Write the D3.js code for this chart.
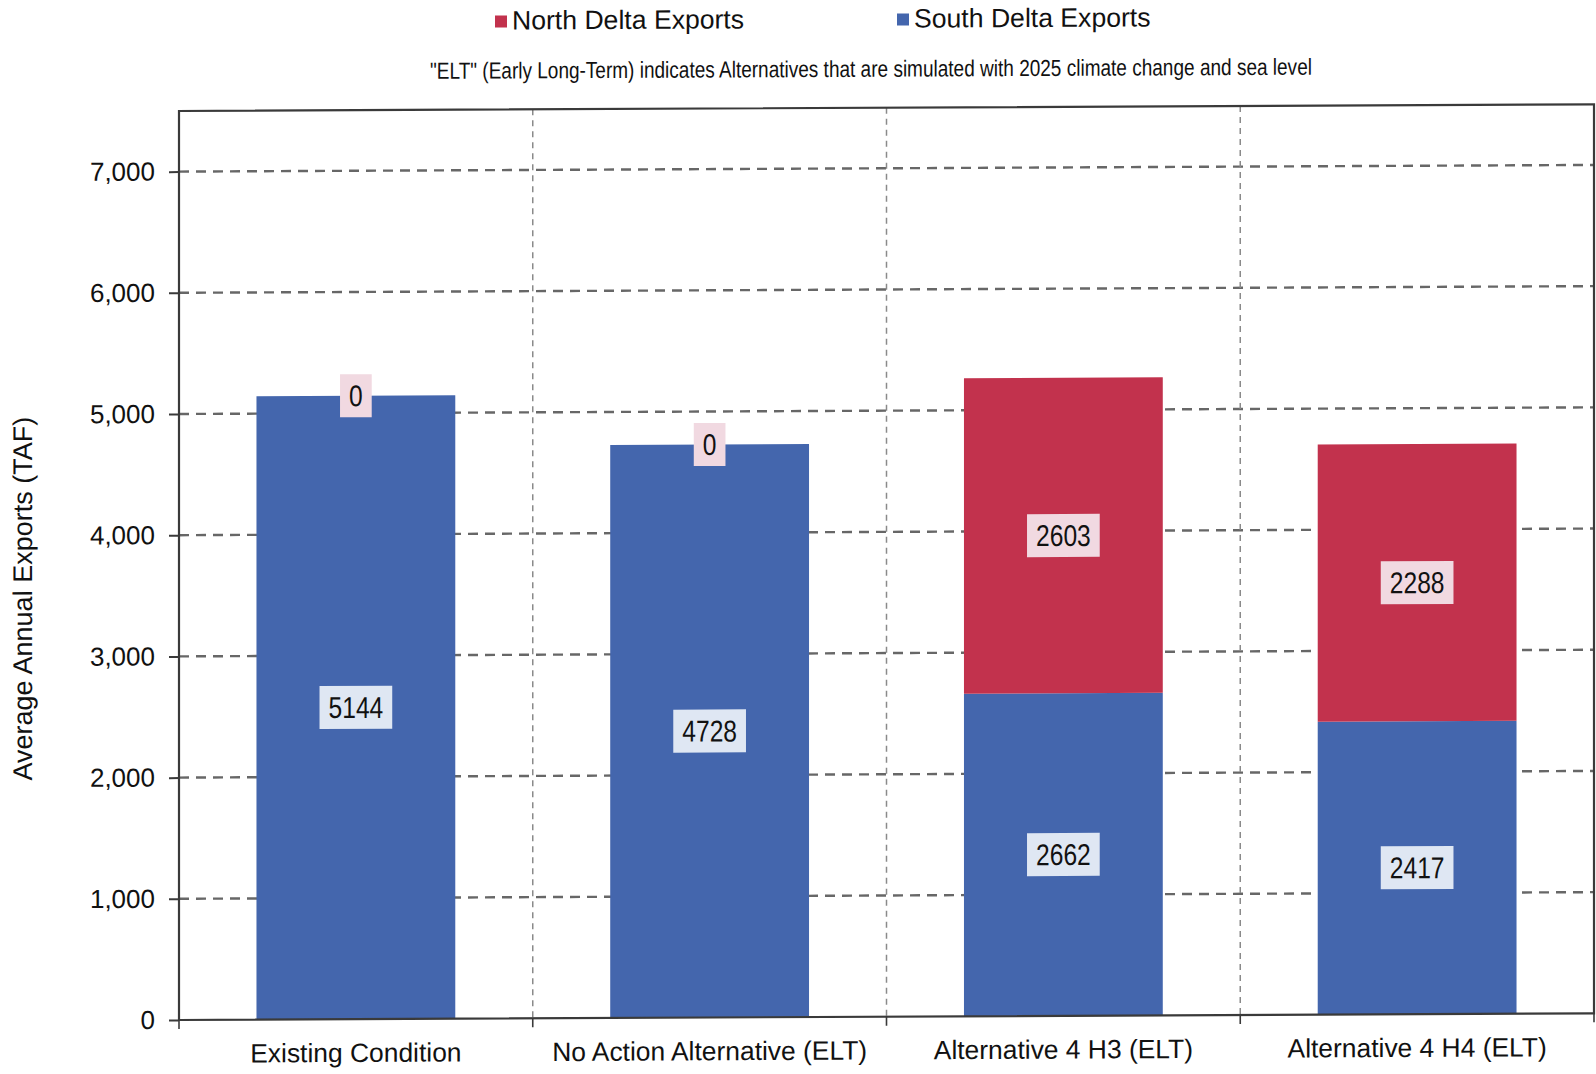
<!DOCTYPE html>
<html>
<head>
<meta charset="utf-8">
<script src="https://cdn.jsdelivr.net/npm/d3@7"></script>
<style>
  html, body { margin: 0; padding: 0; background: #fff; }
  svg { display: block; font-family: "Liberation Sans", Arial, sans-serif; }
</style>
</head>
<body>
<svg id="chart" width="1596" height="1074"></svg>
<script>
// Average annual Delta exports by scenario (TAF)
const categories = [
  "Existing Condition",
  "No Action Alternative (ELT)",
  "Alternative 4 H3 (ELT)",
  "Alternative 4 H4 (ELT)"
];
const southDeltaExports = [5144, 4728, 2662, 2417];
const northDeltaExports = [0, 0, 2603, 2288];
const yTickValues = [0, 1000, 2000, 3000, 4000, 5000, 6000, 7000];
const seriesNames = ["South Delta Exports", "North Delta Exports"];
const legendNames = ["North Delta Exports", "South Delta Exports"];
const subtitle = "\"ELT\" (Early Long-Term) indicates Alternatives that are simulated with 2025 climate change and sea level";
const yAxisTitle = "Average Annual Exports (TAF)";

const W = 1596, H = 1074;
const margin = { left: 179, right: 2, top: 111, bottom: 54 };
const plotL = margin.left, plotR = W - margin.right;
const plotT = margin.top, plotB = H - margin.bottom;

const colors = {
  "South Delta Exports": "#4466ad",
  "North Delta Exports": "#c2324d"
};
const labelFill = {
  "South Delta Exports": "#dfe7f3",
  "North Delta Exports": "#f1d9e1"
};

const table = categories.map((c, i) => ({
  category: c,
  "South Delta Exports": southDeltaExports[i],
  "North Delta Exports": northDeltaExports[i]
}));
const stacked = d3.stack().keys(seriesNames)(table);

const svg = d3.select("#chart");
// the whole page is drawn very slightly tilted
const root = svg.append("g")
  .attr("transform", `translate(${plotL},0) skewY(-0.27) translate(${-plotL},0)`);

const x = d3.scaleBand().domain(categories).range([plotL, plotR]).padding(0);
const y = d3.scaleLinear().domain([0, 7500]).range([plotB, plotT]);
const barW = x.bandwidth() * 0.562;

// horizontal gridlines
root.append("g").selectAll("line")
  .data(yTickValues.filter(v => v > 0))
  .join("line")
  .attr("x1", plotL).attr("x2", plotR)
  .attr("y1", d => y(d)).attr("y2", d => y(d))
  .attr("stroke", "#676767").attr("stroke-width", 2.4)
  .attr("stroke-dasharray", "10,7");

// vertical category separators
root.append("g").selectAll("line")
  .data(categories.slice(1))
  .join("line")
  .attr("x1", d => x(d)).attr("x2", d => x(d))
  .attr("y1", plotT).attr("y2", plotB)
  .attr("stroke", "#8a8a8a").attr("stroke-width", 1.5)
  .attr("stroke-dasharray", "6,5");

// stacked bars
const layers = root.append("g").selectAll("g")
  .data(stacked)
  .join("g")
  .attr("fill", d => colors[d.key]);
layers.selectAll("rect")
  .data(d => d)
  .join("rect")
  .attr("x", d => x(d.data.category) + (x.bandwidth() - barW) / 2)
  .attr("width", barW)
  .attr("y", d => y(d[1]))
  .attr("height", d => y(d[0]) - y(d[1]));

// plot frame
root.append("rect")
  .attr("x", plotL).attr("y", plotT)
  .attr("width", plotR - plotL).attr("height", plotB - plotT)
  .attr("fill", "none").attr("stroke", "#3a3a3a").attr("stroke-width", 2.2);

// y axis
const yAxis = root.append("g")
  .attr("transform", `translate(${plotL},0)`)
  .call(d3.axisLeft(y).tickValues(yTickValues).tickFormat(d3.format(",")).tickSize(10).tickPadding(14));
yAxis.select(".domain").remove();
yAxis.selectAll(".tick line").attr("stroke", "#3a3a3a").attr("stroke-width", 2);
yAxis.selectAll(".tick text")
  .attr("font-size", 26).attr("fill", "#111")
  .attr("font-family", "Liberation Sans, Arial, sans-serif");

// x axis
const xAxis = root.append("g")
  .attr("transform", `translate(0,${plotB})`)
  .call(d3.axisBottom(x).tickSize(0).tickPadding(24));
xAxis.select(".domain").remove();
xAxis.selectAll(".tick text")
  .attr("font-size", 26.4).attr("fill", "#111")
  .attr("font-family", "Liberation Sans, Arial, sans-serif");
root.append("g").selectAll("line")
  .data(categories)
  .join("line")
  .attr("x1", d => x(d)).attr("x2", d => x(d))
  .attr("y1", plotB).attr("y2", plotB + 9)
  .attr("stroke", "#3a3a3a").attr("stroke-width", 1.6);
root.append("line")
  .attr("x1", plotR).attr("x2", plotR)
  .attr("y1", plotB).attr("y2", plotB + 9)
  .attr("stroke", "#3a3a3a").attr("stroke-width", 1.6);

// value labels (narrow face: horizontally condensed sans)
const labelG = root.append("g");
stacked.forEach(layer => {
  layer.forEach(d => {
    const cx = x(d.data.category) + x.bandwidth() / 2;
    const cy = (y(d[0]) + y(d[1])) / 2;
    const value = d[1] - d[0];
    const g = labelG.append("g");
    const t = g.append("text")
      .attr("transform", `translate(${cx},${cy + 10.5}) scale(0.82,1)`)
      .attr("text-anchor", "middle")
      .attr("font-size", 30)
      .attr("fill", "#111")
      .text(value);
    const tw = t.node().getComputedTextLength() * 0.82;
    g.insert("rect", "text")
      .attr("x", cx - tw / 2 - 9).attr("width", tw + 18)
      .attr("y", cy - 21.5).attr("height", 43)
      .attr("fill", labelFill[layer.key]);
  });
});

// y axis title
root.append("text")
  .attr("transform", `translate(32,598) rotate(-90)`)
  .attr("text-anchor", "middle")
  .attr("font-size", 27)
  .attr("fill", "#111")
  .text(yAxisTitle);

// legend
const legendX = [495, 897];
const legend = root.append("g").selectAll("g")
  .data(legendNames)
  .join("g")
  .attr("transform", (d, i) => `translate(${legendX[i]},0)`);
legend.append("rect")
  .attr("x", 0).attr("y", 17).attr("width", 12).attr("height", 12)
  .attr("fill", d => colors[d]);
legend.append("text")
  .attr("x", 17).attr("y", 31)
  .attr("font-size", 26.6).attr("fill", "#111")
  .text(d => d);

// subtitle
root.append("text")
  .attr("transform", `translate(871,80) scale(0.82,1)`)
  .attr("text-anchor", "middle")
  .attr("font-size", 23.2)
  .attr("fill", "#111")
  .text(subtitle);
</script>
</body>
</html>
